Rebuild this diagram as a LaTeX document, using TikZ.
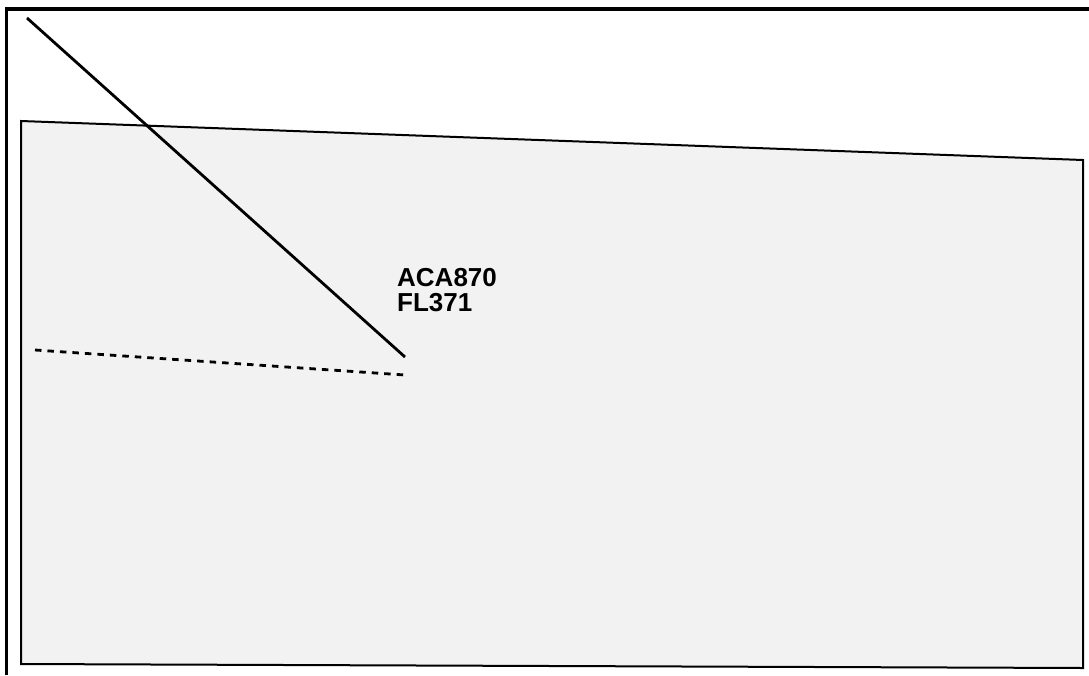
\documentclass[tikz,border=0pt]{standalone}
\usepackage{fontspec}
\setmainfont{Liberation Sans}
\begin{document}
\begin{tikzpicture}[x=1pt,y=-1pt,
  frame/.style={line width=3.2pt},
  zone/.style={draw=black,line width=2pt,fill=black!5},
  track/.style={line width=2.8pt},
  predicted/.style={line width=2.8pt,dash pattern=on 6.5pt off 6pt},
  tag/.style={font=\bfseries\fontsize{26}{25}\selectfont,align=left,anchor=north west,inner sep=0pt}]
\useasboundingbox (0,0) rectangle (1089,675);
\fill[white] (0,0) rectangle (1089,675);
\draw[frame] (6.5,675) -- (6.5,9) -- (1089,9);
\draw[zone] (21,121) -- (1083,160) -- (1083,668) -- (21,664) -- cycle;
\coordinate (t1) at (27,18);
\coordinate (t2) at (405,357);
\coordinate (d1) at (35,350);
\coordinate (d2) at (405,375);
\draw[track] (t1) -- (t2);
\draw[predicted] (d1) -- (d2);
\node[tag] (lbl) at (397,268.5) {ACA870\\FL371};
\end{tikzpicture}
\end{document}
